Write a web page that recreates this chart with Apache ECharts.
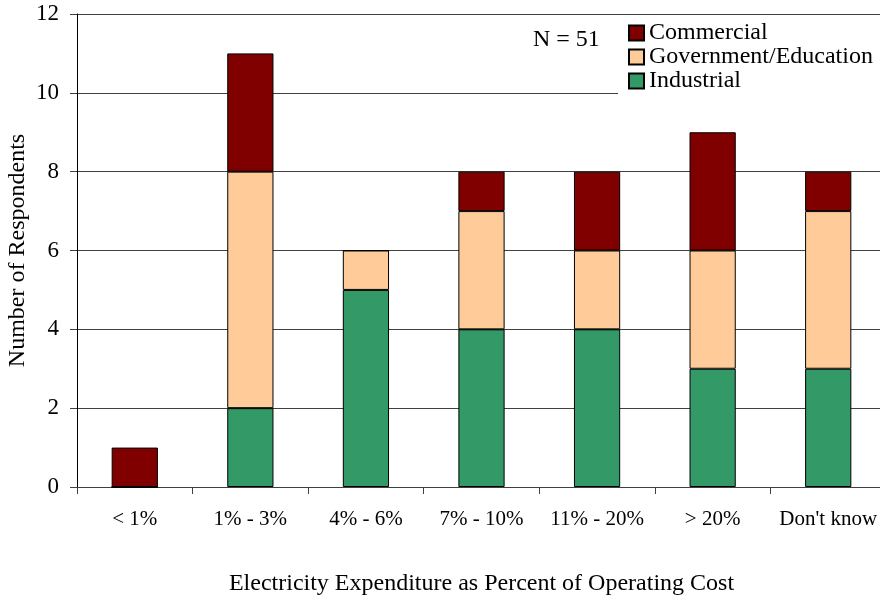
<!DOCTYPE html>
<html>
<head>
<meta charset="utf-8">
<script src="https://cdn.jsdelivr.net/npm/echarts@6/dist/echarts.min.js"></script>
<style>html,body{margin:0;padding:0;background:#fff;}#c{width:880px;height:598px;}</style>
</head>
<body>
<div id="c"></div>
<script>
const categories = ["< 1%", "1% - 3%", "4% - 6%", "7% - 10%", "11% - 20%", "> 20%", "Don't know"];
const industrial = [0, 2, 5, 4, 4, 3, 3];
const government = [0, 6, 1, 3, 2, 3, 4];
const commercial = [1, 3, 0, 1, 2, 3, 1];
const yTicks = [0, 2, 4, 6, 8, 10, 12];
const noteText = "N = 51";

const FONT = "Liberation Serif";
const chart = echarts.init(document.getElementById('c'), null, {renderer: 'canvas'});
const barStyle = (color) => ({color: color, borderColor: '#000', borderWidth: 1});
chart.setOption({
  animation: false,
  backgroundColor: '#fff',
  textStyle: {fontFamily: FONT, color: '#000'},
  grid: {left: 77, top: 14, width: 809, height: 473, containLabel: false, outerBoundsMode: 'none'},
  legend: {
    orient: 'vertical', left: 618, top: 16,
    padding: [5, 10, 10, 10],
    backgroundColor: '#fff',
    itemWidth: 15, itemHeight: 15, itemGap: 0,
    icon: 'rect',
    data: ['Commercial', 'Government/Education', 'Industrial'],
    textStyle: {fontFamily: FONT, fontSize: 24, color: '#000', lineHeight: 24, padding: [0,0,0,0]}
  },
  graphic: [{
    type: 'text', left: 533, top: 28, z: 100,
    style: {text: noteText, font: '24px "Liberation Serif"', fill: '#000'}
  }],
  xAxis: {
    type: 'category', data: categories, boundaryGap: true,
    name: 'Electricity Expenditure as Percent of Operating Cost',
    nameLocation: 'middle', nameGap: 85, nameMoveOverlap: false,
    nameTextStyle: {fontFamily: FONT, fontSize: 24, color: '#000'},
    axisLine: {show: true, lineStyle: {color: '#404040', width: 1}},
    axisTick: {show: true, inside: false, length: 7, lineStyle: {color: '#404040'}},
    axisLabel: {interval: 0, margin: 22, fontFamily: FONT, fontSize: 21, color: '#000'},
    splitLine: {show: false}
  },
  yAxis: {
    type: 'value', min: 0, max: 12, interval: 2,
    name: 'Number of Respondents', nameLocation: 'middle', nameGap: 47, nameMoveOverlap: false,
    nameTextStyle: {fontFamily: FONT, fontSize: 24, color: '#000'},
    axisLine: {show: true, lineStyle: {color: '#000', width: 1}},
    axisTick: {show: true, length: 7, lineStyle: {color: '#404040'}},
    axisLabel: {margin: 18, fontFamily: FONT, fontSize: 23, color: '#000',
      formatter: (v) => yTicks.includes(v) ? String(v) : ''},
    splitLine: {show: true, lineStyle: {color: '#404040', width: 1}}
  },
  series: [
    {name: 'Industrial', type: 'bar', stack: 's', data: industrial, barWidth: '40%', itemStyle: barStyle('#339966')},
    {name: 'Government/Education', type: 'bar', stack: 's', data: government, barWidth: '40%', itemStyle: barStyle('#FFCC99')},
    {name: 'Commercial', type: 'bar', stack: 's', data: commercial, barWidth: '40%', itemStyle: barStyle('#800000')}
  ]
});
</script>
</body>
</html>
